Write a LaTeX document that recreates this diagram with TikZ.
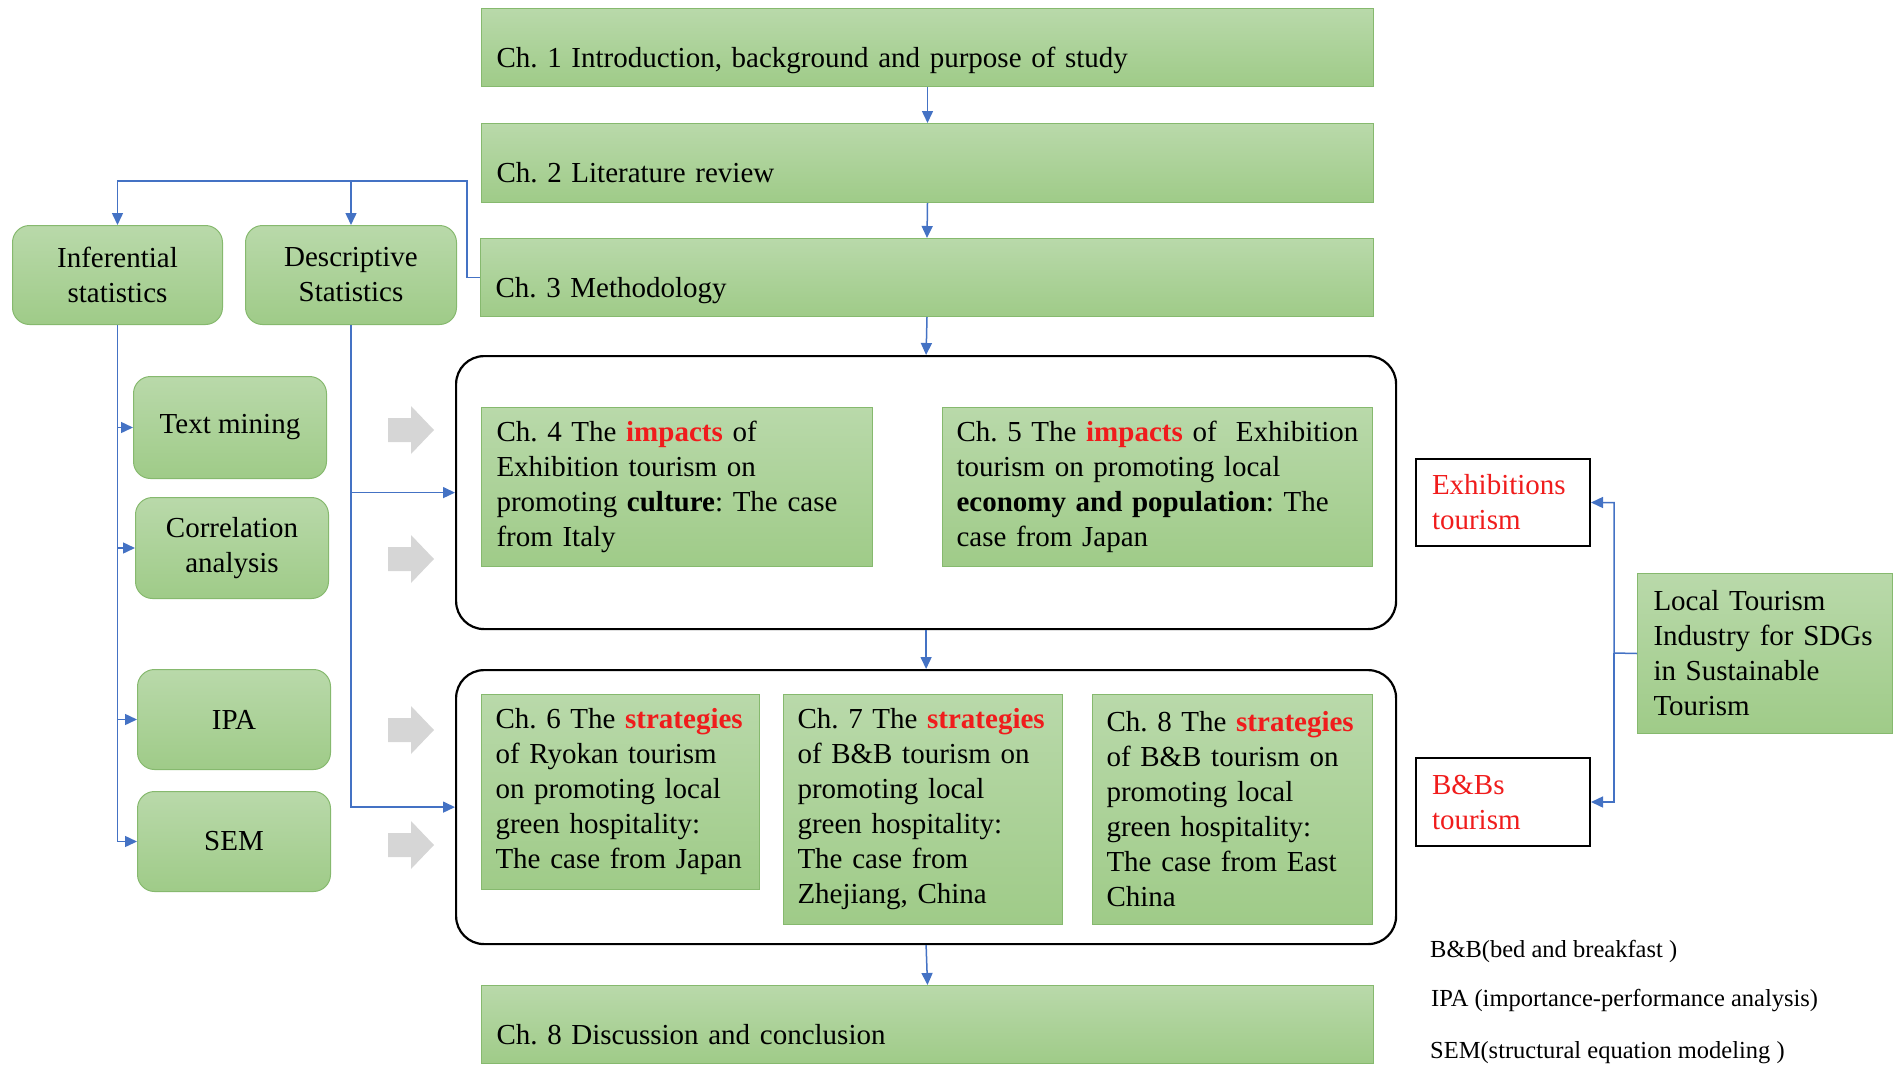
\documentclass[tikz,border=0pt]{standalone}
\usepackage{fontspec}
\setmainfont{Liberation Serif}
\usetikzlibrary{arrows.meta,calc}
\definecolor{gTop}{HTML}{B9D9AA}
\definecolor{gBot}{HTML}{9FCB88}
\definecolor{gLine}{HTML}{86B96E}
\definecolor{fblue}{HTML}{4472C4}
\definecolor{agray}{HTML}{D6D6D6}
\definecolor{tred}{HTML}{F01C1C}
\newcommand{\redbold}[1]{\textcolor{tred}{\textbf{#1}}}
\frenchspacing
\hyphenpenalty=10000
\exhyphenpenalty=10000
\begin{document}
\begin{tikzpicture}[x=1pt,y=-1pt,
  font=\fontsize{29}{35}\selectfont,
  gbox/.style={draw=gLine, line width=1pt, top color=gTop, bottom color=gBot, inner sep=0pt},
  chbox/.style={gbox, anchor=north west, align=left, inner xsep=15pt},
  onebox/.style={chbox, minimum height=78pt, minimum width=892pt, text width=862pt, text height=45pt, text depth=6pt},
  statbox/.style={gbox, anchor=north west, rounded corners=17pt, align=center},
  redbox/.style={draw=black, line width=2pt, anchor=north west, inner ysep=0pt, inner xsep=16pt, align=left, text=tred, fill=white},
  bigbox/.style={draw=black, line width=2.2pt, rounded corners=28pt, anchor=north west, inner sep=0pt},
  flow/.style={draw=fblue, line width=1.5pt, -{Triangle[length=12pt,width=11pt]}},
  grayarr/.pic={\fill[agray] (-22,-12) -- (1,-12) -- (1,-24) -- (24,0) -- (1,24) -- (1,12) -- (-22,12) -- cycle;},
  legend/.style={anchor=west, inner sep=0pt, font=\fontsize{24.5}{29}\selectfont}
]
\useasboundingbox (0,0) rectangle (1896,1068);

% main chapter boxes
\node[onebox] (c1) at (481,8) {Ch. 1 Introduction, background and purpose of study};
\node[onebox, minimum height=79pt] (c2) at (481,123) {Ch. 2 Literature review};
\node[onebox, minimum width=893pt, text width=863pt] (c3) at (480,238) {Ch. 3 Methodology};
\node[onebox] (c9) at (481,985) {Ch. 8 Discussion and conclusion};

% big frames
\node[bigbox, minimum width=940pt, minimum height=273pt] (big1) at (455,355) {};
\node[bigbox, minimum width=940pt, minimum height=274pt] (big2) at (455,669) {};

% chapter boxes inside frames
\node[chbox, minimum width=391pt, text width=361pt, minimum height=159pt] (c4) at (481,407)
  {Ch. 4 The \redbold{impacts} of\\ Exhibition tourism on\\ promoting \textbf{culture}: The case\\ from Italy};
\node[chbox, minimum width=430pt, text width=402pt, inner xsep=14pt, minimum height=159pt] (c5) at (942,407)
  {Ch. 5 The \redbold{impacts} of~ Exhibition\\ tourism on promoting local\\ \textbf{economy and population}: The\\ case from Japan};
\node[chbox, minimum width=278pt, text width=250pt, inner xsep=14pt, minimum height=195pt] (c6) at (481,694)
  {Ch. 6 The \redbold{strategies}\\ of Ryokan tourism\\ on promoting local\\ green hospitality:\\ The case from Japan};
\node[chbox, minimum width=279pt, text width=251pt, inner xsep=14pt, minimum height=230pt] (c7) at (783,694)
  {Ch. 7 The \redbold{strategies}\\ of B\&B tourism on\\ promoting local\\ green hospitality:\\ The case from\\ Zhejiang, China};
\node[chbox, minimum width=280pt, text width=252pt, inner xsep=14pt, minimum height=230pt] (c8) at (1092,694)
  {Ch. 8 The \redbold{strategies}\\ of B\&B tourism on\\ promoting local\\ green hospitality:\\ The case from East\\ China};

% statistics boxes
\node[statbox, minimum width=210pt, minimum height=99pt] (inf) at (12,225) {Inferential\\ statistics};
\node[statbox, minimum width=211pt, minimum height=99pt] (desc) at (245,225) {Descriptive\\ Statistics};
\node[statbox, minimum width=193pt, minimum height=102pt] (tm) at (133,376) {Text mining};
\node[statbox, minimum width=193pt, minimum height=101pt] (corr) at (135,497) {Correlation\\ analysis};
\node[statbox, minimum width=193pt, minimum height=100pt] (ipa) at (137,669) {IPA};
\node[statbox, minimum width=193pt, minimum height=100pt] (sem) at (137,791) {SEM};

% right side
\node[redbox, minimum width=174pt, text width=142pt, minimum height=87pt] (exh) at (1415,458) {Exhibitions\\ tourism};
\node[redbox, minimum width=174pt, text width=142pt, minimum height=88pt] (bnb) at (1415,757) {B\&Bs\\ tourism};
\node[chbox, inner xsep=16pt, minimum width=255pt, text width=223pt, minimum height=160pt] (loc) at (1637,573)
  {Local Tourism\\ Industry for SDGs\\ in Sustainable\\ Tourism};

% legend
\node[legend] (l1) at (1430,951) {B\&B(bed and breakfast )};
\node[legend] (l2) at (1431,1001) {IPA (importance-performance analysis)};
\node[legend] (l3) at (1430,1053) {SEM(structural equation modeling )};

% gray arrows
\pic at (410,430) {grayarr};
\pic at (410,559) {grayarr};
\pic at (410,730) {grayarr};
\pic at (410,845) {grayarr};

% main flow
\draw[flow] (c1.south) -- (c2.north);
\draw[flow] (c2.south) -- (c3.north);
\draw[flow] (c3.south) -- (big1.north);
\draw[flow] (big1.south) -- (big2.north);
\draw[flow] (big2.south) -- (c9.north);

% methodology to statistics
\coordinate (j1) at (467,181);
\draw[flow] (c3.west) -| (j1) -| (inf.north);
\draw[flow] (desc.north |- j1) -- (desc.north);

% inferential branches
\draw[flow] (inf.south) |- (tm.west);
\draw[flow] (inf.south) |- (corr.west);
\draw[flow] (inf.south) |- (ipa.west);
\draw[flow] (inf.south) |- (sem.west);

% descriptive branches
\draw[flow] (desc.south) |- (big1.west);
\draw[flow] (desc.south) |- (big2.west);

% local tourism branches
\coordinate (j2) at (1614,653);
\draw[flow] (loc.west) -- (j2) |- (exh.east);
\draw[flow] (j2) |- (bnb.east);
\end{tikzpicture}
\end{document}
